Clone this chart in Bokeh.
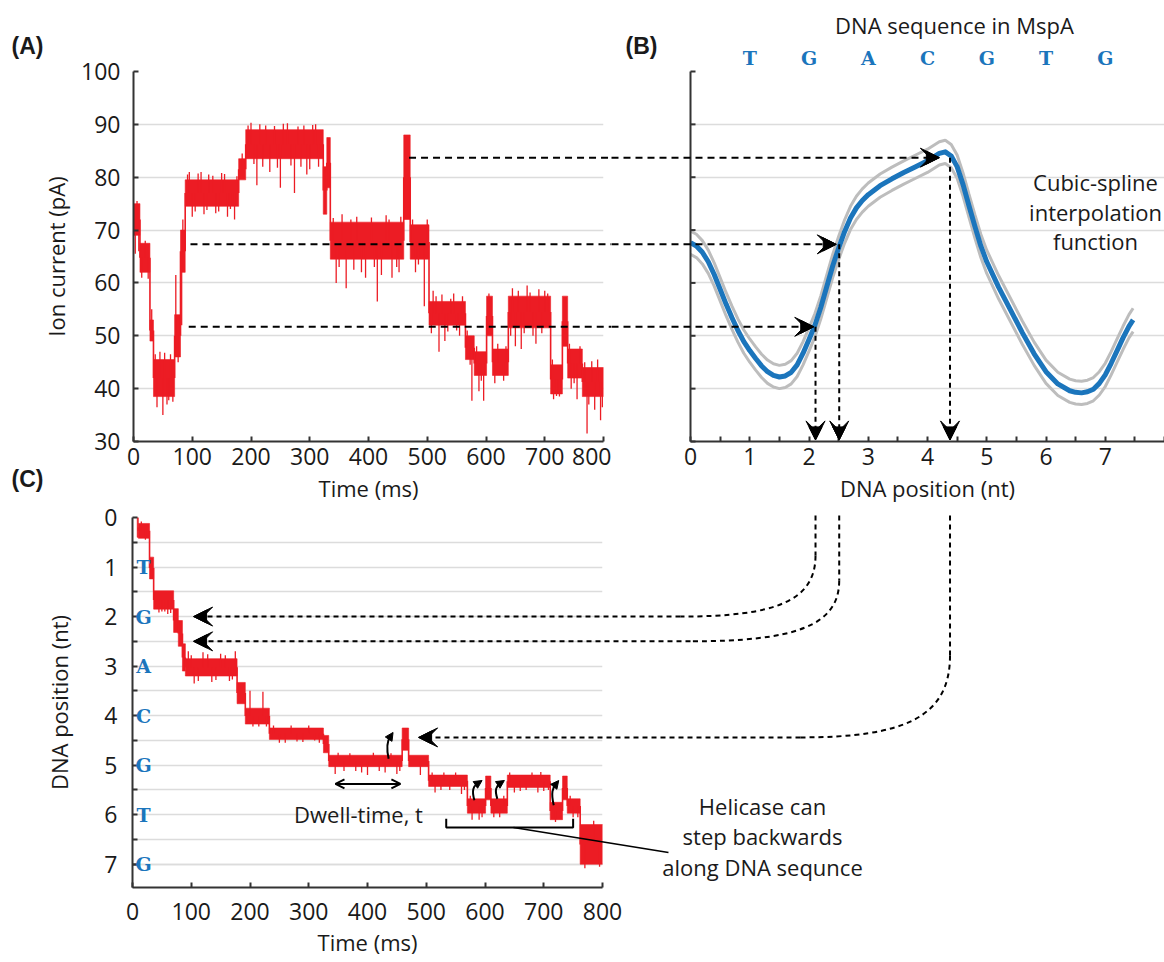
from bokeh.plotting import figure
from bokeh.models import Range1d, FixedTicker, Arrow, VeeHead, OpenHead, NormalHead
from bokeh.layouts import column, row
from bokeh.embed import file_html
from bokeh.resources import INLINE
from bokeh.core.properties import value

FONT = "Open Sans"
RED = "#ec1c24"
BLUE = "#1b75bc"
GRAY = "#bdbdbd"
GRID = "#dcdcdc"
AXIS = "#333333"
INK = "#1a1a1a"

# ---------------- data ----------------
# (A) ion current trace: noisy levels (start ms, end ms, band low, band high) in pA
A_t0 = [0, 11, 28, 34, 70, 80, 88, 179, 191, 323, 329, 335, 460, 471, 503, 565, 580, 601, 611, 638, 710, 730, 739, 764]
A_t1 = [11, 28, 34, 70, 80, 88, 179, 191, 323, 329, 335, 460, 471, 503, 565, 580, 601, 611, 638, 710, 730, 739, 764, 800]
A_lo = [69, 62, 49, 38.5, 46, 62, 74.5, 79.5, 83.5, 73, 78, 64.5, 72, 64.5, 52, 45.5, 42.5, 50, 42.5, 51.5, 39, 48, 42, 38.5]
A_hi = [75, 67.5, 53, 45.5, 54, 70, 79.5, 83.5, 89, 82, 87.5, 71.5, 88, 71, 56.5, 50, 47, 57.5, 47.5, 57.5, 44.5, 57.5, 47.5, 44]
# (A) noise excursions (time ms, tip current pA)
A_spike_t = [3, 6, 9, 14, 20, 25, 31, 40, 45, 50, 57, 63, 67, 72, 76, 82, 84, 95, 100, 110, 120, 128, 140, 150, 160, 172,
             185, 200, 210, 225, 232, 250, 262, 274, 290, 300, 310, 345, 355, 362, 380, 395, 415, 430, 440, 452, 480, 495,
             510, 520, 530, 545, 555, 576, 588, 596, 605, 615, 630, 645, 650, 660, 670, 685, 700, 715, 725, 745, 755,
             772, 785, 795, 790,
             92, 105, 115, 125, 135, 145, 155, 165, 176,
             195, 205, 215, 220, 240, 245, 255, 268, 280, 285, 295, 305, 315,
             340, 350, 370, 375, 388, 405, 410, 422, 435, 448, 455,
             507, 515, 525, 535, 540, 550, 560,
             642, 655, 665, 675, 680, 690, 695, 705,
             768, 775, 780, 798, 37, 53, 60, 568, 573, 584, 592, 620, 634, 713, 720, 742, 750, 760, 475, 485, 500]
A_spike_v = [65.5, 75.5, 66, 61, 68, 60.8, 55, 36.5, 47, 35, 37, 46.5, 37.5, 61.5, 45, 52, 72, 81, 72.5, 80.7, 73, 80.5,
             73.2, 80.8, 72.5, 72, 84.5, 90.3, 78.5, 89.8, 81, 78, 90.2, 77, 89.8, 81.5, 90, 60, 73, 59, 72.5, 61, 56.5,
             72.8, 61, 62, 62, 55.6, 58.5, 47, 49, 58, 50, 37.7, 39.5, 37.7, 58, 41, 41.5, 59, 48, 47.5, 59.5, 48.5,
             58.5, 38, 38.5, 40, 38, 31.5, 36, 34, 45.5,
             80.5, 73.5, 81, 73.8, 80.3, 73.5, 80.6, 74, 80.2,
             89.8, 82.5, 90, 82, 89.7, 81.8, 90.1, 82.2, 89.6, 82, 80.5, 89.9, 82,
             72.3, 63, 72, 62.5, 62, 72.4, 63, 61.5, 72, 63, 72.5,
             50.5, 57.5, 57.8, 50.8, 57, 51, 57.5,
             50, 58.5, 50.5, 58.2, 50, 58.8, 50.5, 58,
             45, 37, 45.2, 36.5, 46.5, 46.8, 37.8, 51, 44.5, 48, 41.5, 48.5, 48, 45.5, 38.6, 48.5, 41, 48, 72, 63.5, 72]
A_xticks = [0, 100, 200, 300, 400, 500, 600, 700, 800]
A_yticks = [30, 40, 50, 60, 70, 80, 90, 100]

# (B) cubic-spline interpolation function (DNA position nt -> current pA) with its grey bounds
B_x = [0, 0.1, 0.2, 0.3, 0.4, 0.5, 0.6, 0.7, 0.8, 0.9, 1.0, 1.1, 1.2, 1.3, 1.4, 1.5, 1.6, 1.7, 1.8, 1.9,
       2.0, 2.1, 2.2, 2.3, 2.4, 2.5, 2.6, 2.7, 2.8, 2.9, 3.0, 3.2, 3.4, 3.6, 3.8,
       4.0, 4.1, 4.2, 4.3, 4.4, 4.5, 4.6, 4.7, 4.8, 4.9, 5.0, 5.2, 5.4, 5.6, 5.8,
       6.0, 6.2, 6.4, 6.5, 6.6, 6.7, 6.8, 6.9, 7.0, 7.1, 7.2, 7.3, 7.4, 7.47]
B_y = [67.6, 67.0, 65.8, 64.0, 61.6, 58.8, 56.0, 53.4, 51.0, 48.9, 47.2, 45.7, 44.3, 43.2, 42.5, 42.2, 42.4, 43.1,
       44.5, 46.7, 49.3, 52.0, 55.4, 59.3, 63.2, 66.6, 69.7, 72.3, 74.2, 75.6, 76.7, 78.4, 79.7, 80.9, 82.0,
       83.1, 83.8, 84.5, 84.8, 84.0, 82.0, 78.6, 74.6, 70.7, 67.0, 64.0, 59.2, 54.9, 50.6, 46.6,
       43.2, 40.9, 39.6, 39.3, 39.2, 39.4, 39.9, 41.0, 42.6, 44.8, 47.2, 49.6, 51.8, 53.0]
B_upper = [69.8, 69.2, 68.0, 66.2, 63.8, 61.0, 58.2, 55.6, 53.2, 51.1, 49.4, 47.9, 46.5, 45.4, 44.7, 44.4, 44.6, 45.3,
           46.7, 48.9, 51.5, 54.2, 57.6, 61.5, 65.4, 68.8, 71.9, 74.5, 76.4, 77.8, 78.9, 80.6, 81.9, 83.1, 84.2,
           85.3, 86.0, 86.7, 87.0, 86.2, 84.2, 80.8, 76.8, 72.9, 69.2, 66.2, 61.4, 57.1, 52.8, 48.8,
           45.4, 43.1, 41.8, 41.5, 41.4, 41.6, 42.1, 43.2, 44.8, 47.0, 49.4, 51.8, 54.0, 55.2]
B_lower = [65.4, 64.8, 63.6, 61.8, 59.4, 56.6, 53.8, 51.2, 48.8, 46.7, 45.0, 43.5, 42.1, 41.0, 40.3, 40.0, 40.2, 40.9,
           42.3, 44.5, 47.1, 49.8, 53.2, 57.1, 61.0, 64.4, 67.5, 70.1, 72.0, 73.4, 74.5, 76.2, 77.5, 78.7, 79.8,
           80.9, 81.6, 82.3, 82.6, 81.8, 79.8, 76.4, 72.4, 68.5, 64.8, 61.8, 57.0, 52.7, 48.4, 44.4,
           41.0, 38.7, 37.4, 37.1, 37.0, 37.2, 37.7, 38.8, 40.4, 42.6, 45.0, 47.4, 49.6, 50.8]
B_xticks = [0, 1, 2, 3, 4, 5, 6, 7]
B_xminor = [0.5, 1.5, 2.5, 3.5, 4.5, 5.5, 6.5, 7.5, 8]
SEQ = ["T", "G", "A", "C", "G", "T", "G"]
SEQ_POS = [1, 2, 3, 4, 5, 6, 7]

# (C) DNA position trace: levels (start ms, end ms, band top nt, band bottom nt)
C_t0 = [8, 10, 29, 36, 70, 78, 85, 90, 178, 192, 233, 325, 334, 459, 470, 504, 570, 601, 610, 638, 711, 732, 740, 762]
C_t1 = [10, 29, 36, 70, 78, 85, 90, 178, 192, 233, 325, 334, 459, 470, 504, 570, 601, 610, 638, 711, 732, 740, 762, 805]
C_lo = [0.0, 0.12, 0.8, 1.48, 1.84, 2.08, 2.55, 2.85, 3.33, 3.85, 4.25, 4.4, 4.8, 4.25, 4.8, 5.2, 5.68, 5.22, 5.68,
        5.2, 5.75, 5.22, 5.68, 6.2]
C_hi = [0.4, 0.42, 1.24, 1.85, 2.32, 2.6, 3.1, 3.2, 3.76, 4.17, 4.48, 4.75, 5.03, 4.7, 5.03, 5.43, 5.97, 5.7, 5.97,
        5.45, 6.1, 5.7, 5.97, 7.0]
C_spike_t = [15, 22, 50, 60, 95, 105, 120, 135, 150, 165, 175, 200, 215, 222, 250, 280, 310, 345, 380, 400, 430, 450,
             490, 515, 540, 560, 578, 590, 625, 650, 670, 690, 700, 720, 750,
             100, 112, 128, 142, 158, 170, 240, 260, 270, 290, 300, 318,
             350, 360, 370, 390, 410, 420, 440, 455, 510, 525, 530, 550, 565,
             642, 660, 680, 695, 708, 575, 595, 615, 632, 745, 758, 770, 785, 795, 45, 55, 65, 205, 228]
C_spike_v = [0.08, 0.45, 1.9, 1.95, 2.7, 3.35, 2.72, 3.32, 2.75, 3.3, 2.7, 3.5, 4.22, 3.52, 4.55, 4.52, 4.5, 5.18,
             5.12, 5.2, 5.15, 5.18, 5.2, 5.55, 5.5, 5.58, 6.1, 6.1, 6.05, 5.55, 5.5, 5.55, 5.52, 6.15, 6.05,
             2.78, 3.3, 2.76, 3.28, 2.78, 3.27, 4.2, 4.55, 4.2, 4.53, 4.2, 4.55,
             4.75, 5.12, 4.76, 5.15, 4.75, 5.12, 4.76, 5.12, 5.15, 5.5, 5.15, 5.15, 5.5,
             5.15, 5.52, 5.15, 5.14, 5.5, 5.62, 6.05, 6.05, 5.62, 5.62, 6.05, 7.08, 6.12, 7.05, 1.92, 1.9, 1.93,
             4.22, 4.22]
C_xticks = [0, 100, 200, 300, 400, 500, 600, 700, 800]
C_yticks = [0, 1, 2, 3, 4, 5, 6, 7]
C_yminor = [0.5, 1.5, 2.5, 3.5, 4.5, 5.5, 6.5, 7.0]

# mapping arrows: current level (pA), start time in A (ms), spline hit in B (nt),
# vertical drop in B (nt), resulting DNA position in C (nt), arrow tip time in C (ms)
MAP_level = [83.7, 67.3, 51.7]
MAP_t_start = [469, 97, 94]
MAP_hit_x = [4.2, 2.46, 2.08]
MAP_drop_x = [4.38, 2.51, 2.11]
MAP_pos = [4.44, 2.5, 2.0]
MAP_tip_t = [487, 104, 104]
MAP_bend_py = [655, 580, 555]      # where each connector starts to bend (page px)
MAP_end_px = [800, 690, 680]       # where each connector becomes horizontal (page px)

# backward-step arrows in C (ms, nt) -> (ms, nt)
BK_x0 = [436, 582, 621, 717]
BK_y0 = [4.87, 5.71, 5.68, 5.81]
BK_x1 = [443.5, 595, 633, 725.5]
BK_y1 = [4.34, 5.31, 5.31, 5.31]

# ---------------- geometry (page pixels) ----------------
W, H = 1164, 962
TOP_H = 508
A_W = 611
B_W = W - A_W
A_L, A_R, A_T, A_B = 133, 603, 71, 441
B_L = 690
C_L, C_R, C_T, C_B = 132, 602, 517, 887

ax_s = (A_R - A_L) / 800.0
ay_s = (A_B - A_T) / 70.0
bx_s = (W - B_L) / 8.0
cx_s = (C_R - C_L) / 800.0
cy_s = (C_B - C_T) / 7.47


def a_x(px): return (px - A_L) / ax_s
def a_y(py): return 100 - (py - A_T) / ay_s
def b_x(px): return (px - B_L) / bx_s
def c_x(px): return (px - C_L) / cx_s
def c_y(py): return (py - C_T) / cy_s


def base_fig(w, h, xr, yr, ml, mr, mt, mb):
    p = figure(width=w, height=h, x_range=xr, y_range=yr, output_backend="svg", toolbar_location=None,
               min_border_left=ml, min_border_right=mr, min_border_top=mt, min_border_bottom=mb)
    p.outline_line_color = None
    p.background_fill_color = "white"
    p.border_fill_color = "white"
    p.xgrid.grid_line_color = None
    p.ygrid.grid_line_color = GRID
    p.ygrid.grid_line_width = 1.5
    return p


def style_axis(ax, label, tick_standoff, label_standoff):
    ax.axis_label = label
    ax.axis_label_text_font = FONT
    ax.axis_label_text_font_size = "22px"
    ax.axis_label_text_font_style = "normal"
    ax.axis_label_text_color = INK
    ax.major_label_text_font = FONT
    ax.major_label_text_font_size = "23px"
    ax.major_label_text_color = INK
    ax.axis_line_color = AXIS
    ax.axis_line_width = 2
    ax.major_tick_line_color = AXIS
    ax.major_tick_line_width = 2
    ax.major_tick_in = 5
    ax.major_tick_out = 0
    ax.minor_tick_line_color = AXIS
    ax.minor_tick_line_width = 2
    ax.minor_tick_in = 5
    ax.minor_tick_out = 0
    ax.major_label_standoff = tick_standoff
    ax.axis_label_standoff = label_standoff


def txt(p, x, y, s, size="22px", color=INK, align="center", font=FONT, style="normal"):
    p.text(x=[x], y=[y], text=[s], text_font=value(font), text_font_size=size, text_color=color,
           text_align=align, text_baseline="middle", text_font_style=style, level="overlay")


def head(p, xs, ys, xe, ye, size=19):
    # stealth-like head: a notched vee plus a solid core triangle
    v = VeeHead(size=size, fill_color="black", line_color="black", line_width=1)
    n = NormalHead(size=round(size * 0.68), fill_color="black", line_color="black", line_width=1)
    p.add_layout(Arrow(end=v, x_start=xs, y_start=ys, x_end=xe, y_end=ye, line_alpha=0.0))
    p.add_layout(Arrow(end=n, x_start=xs, y_start=ys, x_end=xe, y_end=ye, line_alpha=0.0))


def draw_trace(p, t0, t1, lo, hi, st, sv):
    p.quad(left=t0, right=t1, bottom=lo, top=hi, fill_color=RED, line_color=RED, line_width=0.6)
    mids = [(a + b) / 2 for a, b in zip(lo, hi)]
    p.segment(x0=t1[:-1], y0=mids[:-1], x1=t1[:-1], y1=mids[1:], line_color=RED, line_width=1.6)
    base = []
    for t in st:
        m = mids[-1]
        for a, b, mm in zip(t0, t1, mids):
            if a <= t < b:
                m = mm
                break
        base.append(m)
    p.segment(x0=st, y0=base, x1=st, y1=sv, line_color=RED, line_width=1.3)


# ---------------- panel A ----------------
pA = base_fig(A_W, TOP_H, Range1d(0, 800), Range1d(30, 100), A_L, A_W - A_R, A_T, TOP_H - A_B)
pA.xaxis.ticker = FixedTicker(ticks=A_xticks)
pA.yaxis.ticker = FixedTicker(ticks=A_yticks)
style_axis(pA.xaxis[0], "Time (ms)", 6, 5)
style_axis(pA.yaxis[0], "Ion current (pA)", 13, 7)
draw_trace(pA, A_t0, A_t1, A_lo, A_hi, A_spike_t, A_spike_v)
a_edge = a_x(A_W)
pA.segment(x0=MAP_t_start, y0=MAP_level, x1=[a_edge] * 3, y1=MAP_level, line_color="black",
           line_width=2, line_dash="7 5", level="overlay")
txt(pA, a_x(27), a_y(45), "(A)", size="23px", font="Liberation Sans", style="bold")
txt(pA, a_x(27), a_y(478), "(C)", size="23px", font="Liberation Sans", style="bold")

# ---------------- panel B ----------------
pB = base_fig(B_W, TOP_H, Range1d(0, 8), Range1d(30, 100), B_L - A_W, 0, A_T, TOP_H - A_B)
pB.xaxis.ticker = FixedTicker(ticks=B_xticks, minor_ticks=B_xminor)
style_axis(pB.xaxis[0], "DNA position (nt)", 6, 5)
pB.yaxis.visible = False
pB.ygrid.ticker = FixedTicker(ticks=A_yticks)
# unlabelled current axis of panel B (same scale as panel A): axis line and inward ticks
pB.segment(x0=[0], y0=[30], x1=[0], y1=[100], line_color=AXIS, line_width=2, level="overlay")
pB.segment(x0=[0] * len(A_yticks), y0=A_yticks, x1=[5 / bx_s] * len(A_yticks), y1=A_yticks,
           line_color=AXIS, line_width=2, level="overlay")
pB.line(B_x, B_upper, line_color=GRAY, line_width=3)
pB.line(B_x, B_lower, line_color=GRAY, line_width=3)
pB.line(B_x, B_y, line_color=BLUE, line_width=5, line_join="round")
b_edge = b_x(A_W)
for lvl, hx in zip(MAP_level, MAP_hit_x):
    pB.segment(x0=[b_edge], y0=[lvl], x1=[hx - 0.1], y1=[lvl], line_color="black", line_width=2,
               line_dash="7 5", level="overlay")
    head(pB, hx - 0.3, lvl, hx, lvl, 19)
for lvl, dx in zip(MAP_level, MAP_drop_x):
    pB.segment(x0=[dx], y0=[lvl], x1=[dx], y1=[32], line_color="black", line_width=2, line_dash="5 4")
    head(pB, dx, 34, dx, 30.3, 19)
txt(pB, b_x(641), a_y(45), "(B)", size="23px", font="Liberation Sans", style="bold")
txt(pB, b_x(954), a_y(24), "DNA sequence in MspA", size="22px")
for s, xpos in zip(SEQ, SEQ_POS):
    txt(pB, xpos, a_y(57), s, size="19px", color=BLUE, font="DejaVu Serif", style="bold")
for s, py in zip(["Cubic-spline", "interpolation", "function"], [181.7, 211.7, 240]):
    txt(pB, b_x(1095), a_y(py), s, size="22px")

# ---------------- panel C ----------------
pC = base_fig(W, H - TOP_H, Range1d(0, 800), Range1d(7.47, 0), C_L, W - C_R, C_T - TOP_H, H - C_B)
pC.xaxis.ticker = FixedTicker(ticks=C_xticks)
pC.yaxis.ticker = FixedTicker(ticks=C_yticks, minor_ticks=C_yminor)
pC.ygrid.minor_grid_line_color = GRID
pC.ygrid.minor_grid_line_width = 1.5
style_axis(pC.xaxis[0], "Time (ms)", 15, 4)
style_axis(pC.yaxis[0], "DNA position (nt)", 15, 27)
draw_trace(pC, C_t0, C_t1, C_lo, C_hi, C_spike_t, C_spike_v)
for s, ypos in zip(SEQ, SEQ_POS):
    txt(pC, c_x(143), ypos, s, size="19px", color=BLUE, font="DejaVu Serif", style="bold")

# connectors from B's position axis down into C
for dx, bend, endpx, pos, tip in zip(MAP_drop_x, MAP_bend_py, MAP_end_px, MAP_pos, MAP_tip_t):
    px = B_L + dx * bx_s
    xt = c_x(px)
    ty = C_T + pos * cy_s
    pC.segment(x0=[xt], y0=[c_y(515)], x1=[xt], y1=[c_y(bend)], line_color="black", line_width=2,
               line_dash="5 4", level="overlay")
    pC.bezier(x0=[xt], y0=[c_y(bend)], x1=[c_x(endpx)], y1=[pos],
              cx0=[xt], cy0=[c_y(bend + 0.75 * (ty - bend))], cx1=[c_x(px - 0.3 * (px - endpx))], cy1=[pos],
              line_color="black", line_width=2, line_dash="5 4", level="overlay")
    pC.segment(x0=[c_x(endpx)], y0=[pos], x1=[tip + 15], y1=[pos], line_color="black", line_width=2,
               line_dash="5 4", level="overlay")
    head(pC, tip + 30, pos, tip, pos, 19)

# dwell time
pC.add_layout(Arrow(start=OpenHead(size=9, line_width=2), end=OpenHead(size=9, line_width=2),
                    x_start=345.5, y_start=5.38, x_end=456, y_end=5.38, line_width=2))
txt(pC, c_x(358), c_y(813), "Dwell-time, t", size="22px")

# curved backward-step arrows
for x0, y0, x1, y1 in zip(BK_x0, BK_y0, BK_x1, BK_y1):
    dy = y0 - y1
    xm, ym = x0 + 0.45 * (x1 - x0), y1 + 0.14 * dy
    pC.bezier(x0=[x0], y0=[y0], x1=[xm], y1=[ym], cx0=[x0 - 5], cy0=[y0 - 0.5 * dy],
              cx1=[x0 - 2], cy1=[y1 + 0.3 * dy], line_color="black", line_width=2)
    pC.add_layout(Arrow(end=NormalHead(size=8, fill_color="black", line_color="black"),
                        x_start=xm, y_start=ym, x_end=x1, y_end=y1, line_width=2))

pC.line(x=[534, 534, 750, 750], y=[6.08, 6.26, 6.26, 6.08], line_color="black", line_width=2)
pC.segment(x0=[648.5], y0=[6.26], x1=[c_x(668)], y1=[c_y(852)], line_color="black", line_width=1.6,
           level="overlay")
for s, py in zip(["Helicase can", "step backwards", "along DNA sequnce"], [805, 835, 866]):
    txt(pC, c_x(762), c_y(py), s, size="22px")

layout = column(row(pA, pB), pC)
open("out.html", "w").write(file_html(layout, INLINE))
